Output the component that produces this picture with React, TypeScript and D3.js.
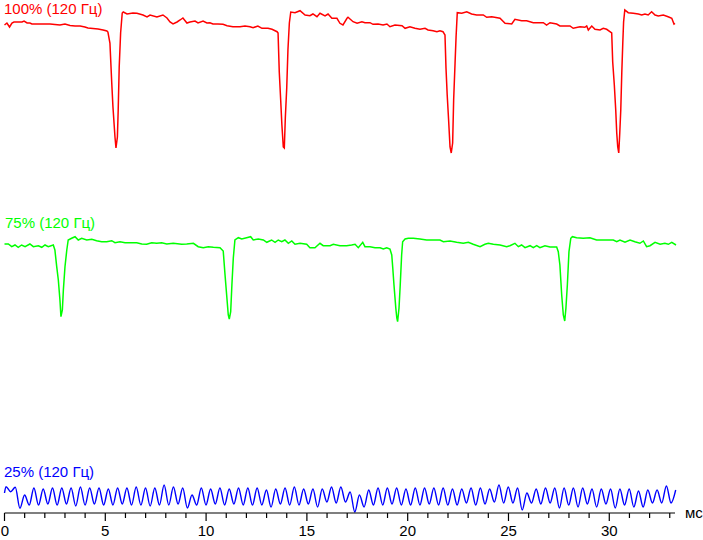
import React from "react";
import * as d3 from "d3";

// time axis (ms)
const timeDomain: [number, number] = [0, 33.26];
const majorTicks = [0, 5, 10, 15, 20, 25, 30];
const axisUnit = "мс";

const labels = ["100% (120 Гц)", "75% (120 Гц)", "25% (120 Гц)"];
const colors = ["#ff0000", "#00ff00", "#0000ff"];

// red: 100% brightness, [ms, level]
const redSeries: [number, number][] = [
  [0.00,135],[0.12,137],[0.25,133],[0.37,137],[0.47,138],[0.87,138],[0.97,139],[1.12,137],[1.26,137],[1.36,136],[1.51,136],[2.26,136],[2.50,135.5],[2.75,135],[3.00,136],[3.25,134.5],[3.50,134],[3.75,134],[3.99,133],[4.14,132],[4.39,131.5],[4.64,131],[4.89,130],[5.08,129],[5.13,128],[5.23,117],[5.32,77],[5.38,53],[5.48,23],[5.53,12],[5.60,23],[5.64,50],[5.69,93],[5.76,127],[5.84,147],[5.89,148],[6.08,146],[6.37,147],[6.57,146.7],[6.87,145],[7.07,143],[7.22,145],[7.56,143],[7.86,145],[8.06,142],[8.21,138],[8.36,136],[8.56,138],[8.71,140],[8.85,142],[9.05,137],[9.20,138],[9.45,139],[9.60,137],[9.85,139],[10.04,137],[10.19,137.3],[10.34,136],[10.59,136],[10.84,135.7],[11.04,134.3],[11.33,133.3],[11.68,133.3],[11.93,134],[12.18,133.3],[12.33,132.3],[12.57,134],[12.77,131.7],[13.07,131.7],[13.27,130.7],[13.52,128.3],[13.57,127],[13.63,88],[13.70,60],[13.76,35],[13.83,13],[13.88,12],[13.93,42],[14.00,72],[14.06,110],[14.13,137],[14.20,148],[14.41,147.3],[14.66,149.3],[14.91,145],[15.15,144.3],[15.30,146],[15.50,143.3],[15.65,146.7],[15.90,144],[16.05,146],[16.24,141.7],[16.49,141.7],[16.64,136.7],[16.79,135],[16.99,141.7],[17.04,142.7],[17.29,138.3],[17.49,136.7],[17.73,138.3],[17.88,137.3],[18.13,137.3],[18.28,135.7],[18.53,136],[18.78,135],[18.97,136],[19.12,133.3],[19.37,135],[19.72,134.3],[19.87,131.7],[20.11,133.3],[20.36,131.7],[20.61,130.7],[20.86,131.7],[21.01,130],[21.26,129.3],[21.45,128.3],[21.60,129.3],[21.75,128.3],[21.85,125],[21.90,92],[21.96,65],[22.03,40],[22.10,13],[22.16,7],[22.23,17],[22.28,60],[22.35,97],[22.40,123],[22.46,147.3],[22.68,146.7],[22.93,148.3],[23.17,146],[23.42,145],[23.75,145],[23.92,142.7],[24.17,143.3],[24.58,141.7],[24.83,136.7],[25.16,136],[25.32,140.7],[25.65,139.3],[25.90,139.3],[26.23,137.3],[26.73,137.3],[26.89,135],[27.06,137.3],[27.39,136],[27.55,134],[28.05,134],[28.21,131.7],[28.55,133.3],[28.79,132.7],[28.88,134],[28.96,130],[29.13,134],[29.29,130.7],[29.54,130],[29.70,131.7],[29.87,130.7],[30.03,128.3],[30.12,127],[30.17,98],[30.25,75],[30.32,50],[30.37,27],[30.42,13],[30.47,7],[30.52,27],[30.57,50],[30.62,87],[30.67,117],[30.71,138],[30.77,150],[30.94,147.3],[31.19,146.7],[31.44,146],[31.61,145],[31.77,146],[31.93,145],[32.10,148.3],[32.27,145],[32.43,144],[32.68,145],[32.92,143.3],[33.10,141.7],[33.21,136],[33.26,136.7]
];

// green: 75% brightness, [ms, level]
const greenSeries: [number, number][] = [
  [0.00,86],[0.19,86],[0.36,83.3],[0.52,85],[0.68,82.7],[0.85,85],[1.02,83.3],[1.26,86],[1.43,83.3],[1.68,84.3],[1.85,82.7],[2.01,85],[2.17,83.3],[2.42,85],[2.50,80],[2.59,63.3],[2.67,50],[2.75,30],[2.80,13.3],[2.87,20],[2.92,40],[3.00,63.3],[3.09,80],[3.16,90],[3.33,91.7],[3.50,93.3],[3.66,90],[3.83,91.7],[4.08,90],[4.33,90.7],[4.57,89.3],[4.82,88.3],[5.07,88.3],[5.32,89.3],[5.48,87.3],[5.73,88.3],[5.98,87.3],[6.31,87.3],[6.56,87.3],[6.81,86],[7.05,85.7],[7.30,87.3],[7.55,86.7],[7.80,87.3],[8.05,86],[8.37,86.7],[8.79,85.7],[9.04,86],[9.37,86.7],[9.61,83.3],[9.86,82.3],[10.11,83.3],[10.36,82.7],[10.69,82.3],[10.85,79],[10.94,55],[11.02,35],[11.10,15],[11.15,11],[11.22,18.3],[11.28,45],[11.35,72],[11.43,90],[11.60,92.3],[11.77,91],[12.01,92.3],[12.21,93.3],[12.34,90],[12.59,91],[12.84,90],[13.01,87.7],[13.25,90],[13.42,87.7],[13.58,90],[13.75,88.3],[13.91,90],[14.08,86.7],[14.25,89],[14.41,85.7],[14.66,86.7],[14.99,85.7],[15.15,82.3],[15.40,82.3],[15.65,86.7],[15.81,84.3],[16.15,84.3],[16.31,85.7],[16.64,84.3],[16.97,84.3],[17.22,85],[17.39,85.7],[17.55,82.3],[17.77,87.7],[17.88,83.3],[18.13,83.3],[18.38,82.3],[18.63,82.3],[18.79,81],[18.96,82.3],[19.12,81],[19.21,75],[19.26,62],[19.32,45],[19.41,22],[19.46,12],[19.50,8.3],[19.57,22],[19.63,45],[19.70,75],[19.75,88.3],[19.87,91],[20.03,91.7],[20.28,91.7],[20.61,91],[20.94,90],[21.27,90],[21.60,90],[21.77,88.3],[22.10,89],[22.43,87.7],[22.76,86.7],[23.01,87.7],[23.25,85.7],[23.59,83.3],[23.83,85.7],[24.00,86.7],[24.25,85.7],[24.58,85],[24.91,83.3],[25.07,84.3],[25.32,86.7],[25.49,83.3],[25.65,85],[25.82,82.3],[26.07,84.3],[26.23,82.3],[26.40,84.3],[26.56,82.3],[26.81,84.3],[27.06,83],[27.39,83],[27.47,78.3],[27.55,65],[27.64,35],[27.72,15],[27.79,9],[27.85,22],[27.92,45],[28.00,78.3],[28.09,91.7],[28.17,93.3],[28.38,92.3],[28.71,91.7],[29.04,92.3],[29.37,90],[29.70,90],[30.20,90],[30.37,88.3],[30.53,90],[30.78,87.7],[31.03,90],[31.27,88.3],[31.52,86.7],[31.69,89],[31.85,83.3],[32.02,84.3],[32.27,87.7],[32.52,85.7],[32.76,86.7],[32.93,85.7],[33.10,87.7],[33.31,85]
];

// blue: 25% brightness (PWM ripple), alternating peak/trough levels sampled every half period
const blueFirst = 22;
const blueSampleStart = 0.074; // ms
const blueSampleStep = 0.2307; // ms (half period)
const blueLevels = [
  28.3,23.3, 27.7,6.7, 20,10, 27,10, 26,11, 27,10, 27,11, 27,9, 28,10, 27,11,
  27,10, 26,10, 27,11, 27,10, 28,10, 27,9, 27,10, 30,10, 28,11, 27,7,
  20,10, 27,10, 26,11, 27,10, 26,11, 27,10, 27,10, 27,10, 25,8, 26,11,
  27,10, 28,10, 26,11, 26,8, 26,13, 28,12, 28,13, 23,3, 20,8, 25,10,
  27,10, 27,11, 27,10, 26,10, 27,10, 27,11, 27,10, 27,10, 26,10, 26,12,
  27,10, 27,11, 26,13, 30,12, 28,12, 27,5, 22,12, 26,11, 27,12, 27,7,
  27,10, 27,8, 27,11, 26,8, 26,11, 26,7, 26,10, 26,8, 24,8, 25,12,
  25,12, 29,12, 25
];

export default function App() {
  const W = 703, H = 540;
  const x = d3.scaleLinear().domain(timeDomain).range([4.5, 675]);
  const yRed = d3.scaleLinear().domain([0, 150]).range([160, 10]);
  const yGreen = d3.scaleLinear().domain([0, 150]).range([330, 180]);
  const yBlue = d3.scaleLinear().domain([0, 150]).range([515, 365]);

  const blueSeries: [number, number][] = [[0, blueFirst]].concat(
    blueLevels.map((v, i) => [blueSampleStart + i * blueSampleStep, v] as [number, number])
  ) as [number, number][];

  const lineR = d3.line<[number, number]>().x(d => x(d[0])).y(d => yRed(d[1]));
  const lineG = d3.line<[number, number]>().x(d => x(d[0])).y(d => yGreen(d[1]));
  const lineB = d3.line<[number, number]>().x(d => x(d[0])).y(d => yBlue(d[1])).curve(d3.curveMonotoneX);

  const axisY = 513;
  const minorTicks = x.ticks(33).filter(t => !majorTicks.includes(t));
  const font = "'Liberation Sans', Arial, sans-serif";
  const fs = 15;

  return (
    <svg width={W} height={H} style={{ position: "absolute", left: 0, top: 0, background: "#fff" }}>
      <path d={lineR(redSeries) || ""} fill="none" stroke={colors[0]} strokeWidth={1.5} />
      <path d={lineG(greenSeries) || ""} fill="none" stroke={colors[1]} strokeWidth={1.5} />
      <path d={lineB(blueSeries) || ""} fill="none" stroke={colors[2]} strokeWidth={1.4} />

      <text x={4} y={14} fill={colors[0]} fontFamily={font} fontSize={fs}>{labels[0]}</text>
      <text x={5} y={228} fill={colors[1]} fontFamily={font} fontSize={fs}>{labels[1]}</text>
      <text x={4} y={477} fill={colors[2]} fontFamily={font} fontSize={fs}>{labels[2]}</text>

      <g>
        <line x1={x(timeDomain[0])} x2={x(timeDomain[1])} y1={axisY} y2={axisY} stroke="#000" strokeWidth={1.2} />
        {minorTicks.map(t => (
          <line key={"m" + t} x1={x(t)} x2={x(t)} y1={axisY} y2={axisY + 5} stroke="#000" strokeWidth={1.2} />
        ))}
        {majorTicks.map(t => (
          <g key={"M" + t}>
            <line x1={x(t)} x2={x(t)} y1={axisY} y2={axisY + 8} stroke="#000" strokeWidth={1.2} />
            <text x={Math.max(x(t), 5)} y={536} textAnchor="middle" fontFamily={font} fontSize={fs} fill="#000">{t}</text>
          </g>
        ))}
        <text x={685} y={518} fontFamily={font} fontSize={fs} fill="#000">{axisUnit}</text>
      </g>
    </svg>
  );
}
